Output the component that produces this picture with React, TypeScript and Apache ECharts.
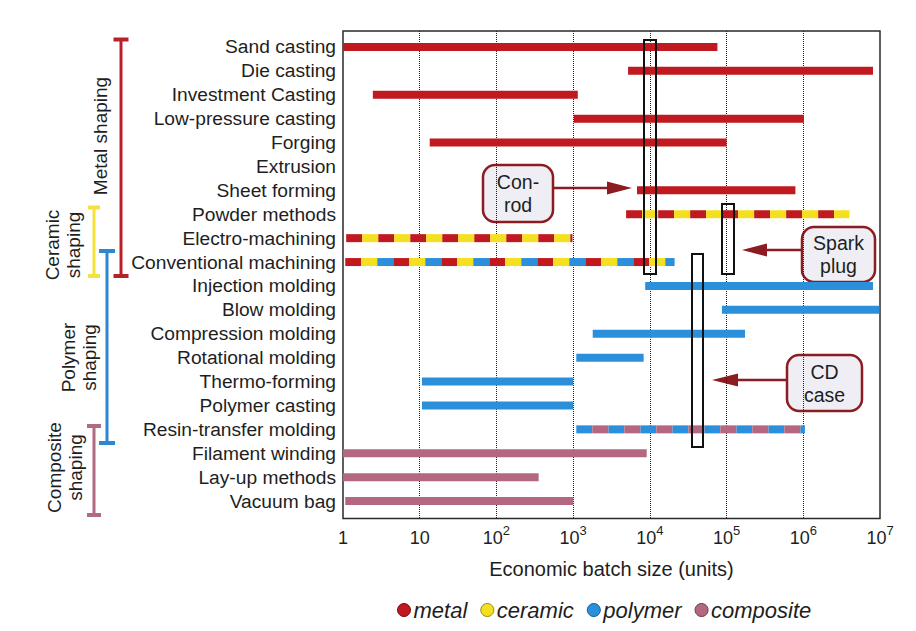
import React, { useEffect, useRef } from 'react';
import * as echarts from 'echarts';

// ---------- data ----------
const processes = [
  'Sand casting', 'Die casting', 'Investment Casting', 'Low-pressure casting', 'Forging',
  'Extrusion', 'Sheet forming', 'Powder methods', 'Electro-machining', 'Conventional machining',
  'Injection molding', 'Blow molding', 'Compression molding', 'Rotational molding', 'Thermo-forming',
  'Polymer casting', 'Resin-transfer molding', 'Filament winding', 'Lay-up methods', 'Vacuum bag',
];
// economic batch size range (units); null = no bar
const batchMin = [1, 5.2e3, 2.45, 1.02e3, 13.5, null, 6.8e3, 4.9e3, 1.1, 1.07, 8.7e3, 8.7e4, 1.8e3, 1.1e3, 10.7, 10.7, 1.1e3, 1, 1, 1.07];
const batchMax = [7.6e4, 8.1e6, 1.15e3, 1.02e6, 1.0e5, null, 7.9e5, 4.0e6, 980, 2.1e4, 8.1e6, 9.8e6, 1.74e5, 8.3e3, 1e3, 1e3, 1.05e6, 9.1e3, 355, 1e3];
// materials of each bar: M metal, C ceramic, P polymer, X composite (dash order)
const materialMix = ['M', 'M', 'M', 'M', 'M', '', 'M', 'MC', 'MC', 'MCP', 'P', 'P', 'P', 'P', 'P', 'P', 'PX', 'X', 'X', 'X'];
const materialNames = ['metal', 'ceramic', 'polymer', 'composite'];
const materialCodes = ['M', 'C', 'P', 'X'];
const materialColors = ['#c0191f', '#f3e01e', '#2c8fdb', '#b3687f'];
const materialBorders = ['#7a0f12', '#9a8a10', '#1a5a90', '#6e3a4a'];

const FONT = '"Liberation Sans", Arial, Helvetica, sans-serif';
const DARK = '#8c1c22';

function buildSeries() {
  return materialNames.map((name, m) => {
    const data: number[][] = [];
    processes.forEach((_, i) => {
      const mix = materialMix[i];
      const idx = mix.indexOf(materialCodes[m]);
      if (idx < 0 || batchMin[i] == null || batchMax[i] == null) return;
      data.push([batchMin[i] as number, batchMax[i] as number, i, idx, mix.length]);
    });
    return {
      type: 'custom',
      name,
      xAxisIndex: 1,
      yAxisIndex: 1,
      encode: { x: [0, 1], y: 2 },
      itemStyle: { color: materialColors[m] },
      data,
      renderItem: (params: any, api: any) => {
        const from = api.value(0);
        const to = api.value(1);
        const row = api.value(2);
        const phase = api.value(3);
        const cycle = api.value(4);
        const p0 = api.coord([from, row]);
        const p1 = api.coord([to, row]);
        const h = 8;
        const seg = 16;
        const y = p0[1] - h / 2;
        const children: any[] = [];
        if (cycle === 1) {
          children.push({ type: 'rect', shape: { x: p0[0], y, width: p1[0] - p0[0], height: h }, style: { fill: api.visual('color') } });
        } else {
          let k = 0;
          for (let x = p0[0]; x < p1[0]; x += seg, k++) {
            if (k % cycle === phase) {
              children.push({ type: 'rect', shape: { x, y, width: Math.min(seg, p1[0] - x), height: h }, style: { fill: api.visual('color') } });
            }
          }
        }
        return { type: 'group', children };
      },
    };
  });
}

function bracket(x: number, y0: number, y1: number, cap: number, color: string) {
  const ls = { stroke: color, lineWidth: 3 };
  return [
    { type: 'line', shape: { x1: x, y1: y0, x2: x, y2: y1 }, style: ls },
    { type: 'line', shape: { x1: x - cap, y1: y0, x2: x + cap, y2: y0 }, style: { stroke: color, lineWidth: 4 } },
    { type: 'line', shape: { x1: x - cap, y1: y1, x2: x + cap, y2: y1 }, style: { stroke: color, lineWidth: 4 } },
  ];
}

function groupLabel(text: string, x: number, y: number) {
  return {
    type: 'text', x, y, rotation: Math.PI / 2,
    style: { text, fontSize: 19, fontFamily: FONT, fill: '#1e1e1e', align: 'center', verticalAlign: 'middle', lineHeight: 21 },
  };
}

function callout(text: string, x: number, y: number, w: number, h: number) {
  return [
    { type: 'rect', shape: { x, y, width: w, height: h, r: 12 }, style: { fill: '#efeef4', stroke: DARK, lineWidth: 2.5 } },
    {
      type: 'text', x: x + w / 2, y: y + h / 2,
      style: { text, fontSize: 19.5, fontFamily: FONT, fill: '#1e1e1e', align: 'center', verticalAlign: 'middle', lineHeight: 23 },
    },
  ];
}

function arrow(xStart: number, xTip: number, y: number, headLen: number) {
  const dir = xTip > xStart ? 1 : -1;
  const base = xTip - dir * headLen;
  return [
    { type: 'line', shape: { x1: xStart, y1: y, x2: base, y2: y }, style: { stroke: DARK, lineWidth: 2.5 } },
    { type: 'polygon', shape: { points: [[base, y - 6.5], [xTip, y], [base, y + 6.5]] }, style: { fill: DARK } },
  ];
}

function box(x0: number, y0: number, x1: number, y1: number) {
  return { type: 'rect', shape: { x: x0, y: y0, width: x1 - x0, height: y1 - y0 }, style: { fill: 'none', stroke: '#111', lineWidth: 2 }, z: 100 };
}

export default function App() {
  const ref = useRef<HTMLDivElement>(null);
  useEffect(() => {
    if (!ref.current) return;
    const chart = echarts.init(ref.current, undefined, { renderer: 'svg' });
    const labelColor = '#1e1e1e';
    chart.setOption({
      animation: false,
      backgroundColor: '#ffffff',
      grid: [
        { left: 343, right: 36, top: 31, height: 487.5, show: true, borderColor: '#2a2a2a', borderWidth: 1.5, backgroundColor: 'transparent', outerBoundsMode: 'none' },
        { left: 343, right: 36, top: 35, height: 478, outerBoundsMode: 'none' },
      ],
      xAxis: [
        {
          type: 'log', logBase: 10, gridIndex: 0, min: 1, max: 1e7, splitNumber: 7,
          axisLine: { show: false }, axisTick: { show: false },
          splitLine: { show: true, showMinLine: false, showMaxLine: false, lineStyle: { type: 'dotted', color: '#222', width: 1 } },
          axisLabel: {
            margin: 5,
            formatter: (v: number) => {
              const e = Math.round(Math.log10(v));
              if (e === 0) return '{b|1}';
              if (e === 1) return '{b|10}';
              return '{b|10}{s|' + e + '}';
            },
            rich: {
              b: { fontSize: 18, fontFamily: FONT, color: labelColor, padding: [5, 0, 0, 0] },
              s: { fontSize: 13, fontFamily: FONT, color: labelColor, verticalAlign: 'top' },
            },
          },
          name: 'Economic batch size (units)',
          nameLocation: 'middle',
          nameGap: 40,
          nameTextStyle: { fontSize: 20, fontFamily: FONT, color: labelColor },
        },
        { type: 'log', logBase: 10, gridIndex: 1, min: 1, max: 1e7, show: false },
      ],
      yAxis: [
        { type: 'value', gridIndex: 0, min: 0, max: 1, show: false },
        {
          type: 'category', gridIndex: 1, data: processes, inverse: true,
          axisLine: { show: false }, axisTick: { show: false }, splitLine: { show: false },
          axisLabel: { interval: 0, fontSize: 19.2, fontFamily: FONT, color: labelColor, margin: 7 },
        },
      ],
      legend: {
        left: 392, top: 594, icon: 'circle', itemWidth: 13, itemHeight: 13, itemGap: 13, selectedMode: false,
        textStyle: { fontSize: 22, fontStyle: 'italic', fontFamily: FONT, color: labelColor, padding: [0, 0, 0, -2] },
        data: materialNames.map((n, i) => ({ name: n, itemStyle: { color: materialColors[i], borderColor: materialBorders[i], borderWidth: 1 } })),
      },
      graphic: [
        ...bracket(121, 39.5, 276, 7.5, '#b8202a'),
        ...bracket(94, 207.5, 276, 6, '#f2e23a'),
        ...bracket(107, 251, 443, 8, '#2e86d0'),
        ...bracket(94, 426, 515, 7, '#b06a82'),
        groupLabel('Metal shaping', 100, 136),
        groupLabel('Ceramic\nshaping', 62.5, 245),
        groupLabel('Polymer\nshaping', 78.5, 357.5),
        groupLabel('Composite\nshaping', 65, 467.5),
        box(644, 40, 656, 274),
        box(722, 204, 734, 274),
        box(692, 254, 703, 447),
        ...arrow(553, 632, 188, 25),
        ...arrow(801, 742, 250, 25),
        ...arrow(786, 712, 380, 26),
        ...callout('Con-\nrod', 483, 165, 70, 57),
        ...callout('Spark\nplug', 802, 227, 73, 55),
        ...callout('CD\ncase', 787, 355, 75, 56),
      ],
      series: buildSeries(),
    });
    return () => chart.dispose();
  }, []);
  return <div ref={ref} style={{ position: 'fixed', left: 0, top: 0, width: 916, height: 631 }} />;
}
